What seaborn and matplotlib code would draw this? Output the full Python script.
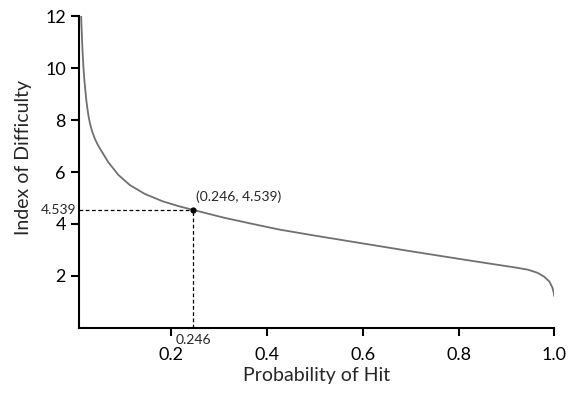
import matplotlib
matplotlib.use("Agg")
import matplotlib.pyplot as plt
import seaborn as sns
import pandas as pd

# values
prob_hit = [0.0113, 0.0120, 0.0135, 0.0148, 0.0161, 0.0182, 0.0203, 0.0222, 0.0243,
            0.0270, 0.0300, 0.0345, 0.0400, 0.0460, 0.0520, 0.0680, 0.0890, 0.1130,
            0.1440, 0.1820, 0.2160, 0.2460, 0.3100, 0.3700, 0.4240, 0.5000, 0.6000,
            0.7000, 0.8000, 0.8700, 0.9200, 0.9450, 0.9650, 0.9790, 0.9900, 0.9960,
            0.9990, 1.0000]
index_difficulty = [12.00, 11.65, 10.95, 10.45, 10.02, 9.50, 9.10, 8.75, 8.45,
                    8.12, 7.85, 7.55, 7.28, 7.05, 6.86, 6.38, 5.89, 5.50,
                    5.16, 4.87, 4.68, 4.539, 4.24, 4.00, 3.79, 3.55, 3.25,
                    2.95, 2.66, 2.46, 2.32, 2.24, 2.12, 1.97, 1.78, 1.56,
                    1.36, 1.23]

point_x, point_y = 0.246, 4.539
x_ticks = [0.2, 0.4, 0.6, 0.8, 1.0]
x_tick_labels = ["0.2", "0.4", "0.6", "0.8", "1.0"]
y_ticks = [2, 4, 6, 8, 10, 12]

df = pd.DataFrame({"p": prob_hit, "id": index_difficulty})

sns.set_style("ticks")
plt.rcParams["font.family"] = ["Lato", "DejaVu Sans"]

fig = plt.figure(figsize=(5.69, 3.95), dpi=100)
ax = fig.add_axes([0.139, 0.170, 0.835, 0.789])

sns.lineplot(data=df, x="p", y="id", ax=ax, color="#707070", linewidth=1.3)

x_left = 0.007
# guide lines to the highlighted point
ax.plot([x_left, point_x], [point_y, point_y],
        color="black", linestyle=(0, (3, 2)), linewidth=0.9)
ax.plot([point_x, point_x], [0, point_y],
        color="black", linestyle=(0, (3, 2)), linewidth=0.9)
ax.scatter([point_x], [point_y], color="black", s=12, zorder=5)
ax.annotate(f"({point_x}, {point_y})", (point_x, point_y), xytext=(2, 5),
            textcoords="offset points", fontsize=10, ha="left", va="bottom")

ax.set_xlim(x_left, 1.0)
ax.set_ylim(0, 12)
ax.set_xticks(x_ticks)
ax.set_xticklabels(x_tick_labels)
ax.set_yticks(y_ticks)
ax.tick_params(axis="both", labelsize=13, length=6, width=1.5, color="black",
               labelcolor="black")
ax.tick_params(axis="x", pad=8)

# small value labels on the axes
ax.text(x_left - 0.006, point_y, f"{point_y}", fontsize=10, ha="right", va="center")
ax.text(point_x, -0.25, f"{point_x}", fontsize=10, ha="center", va="top")

for side in ["top", "right"]:
    ax.spines[side].set_visible(False)
for side in ["left", "bottom"]:
    ax.spines[side].set_linewidth(1.5)
    ax.spines[side].set_color("black")

ax.set_xlabel("Probability of Hit", fontsize=14, labelpad=3)
ax.set_ylabel("Index of Difficulty", fontsize=14)
ax.yaxis.set_label_coords(-0.10, 0.545)

fig.savefig("out.png", dpi=100)
